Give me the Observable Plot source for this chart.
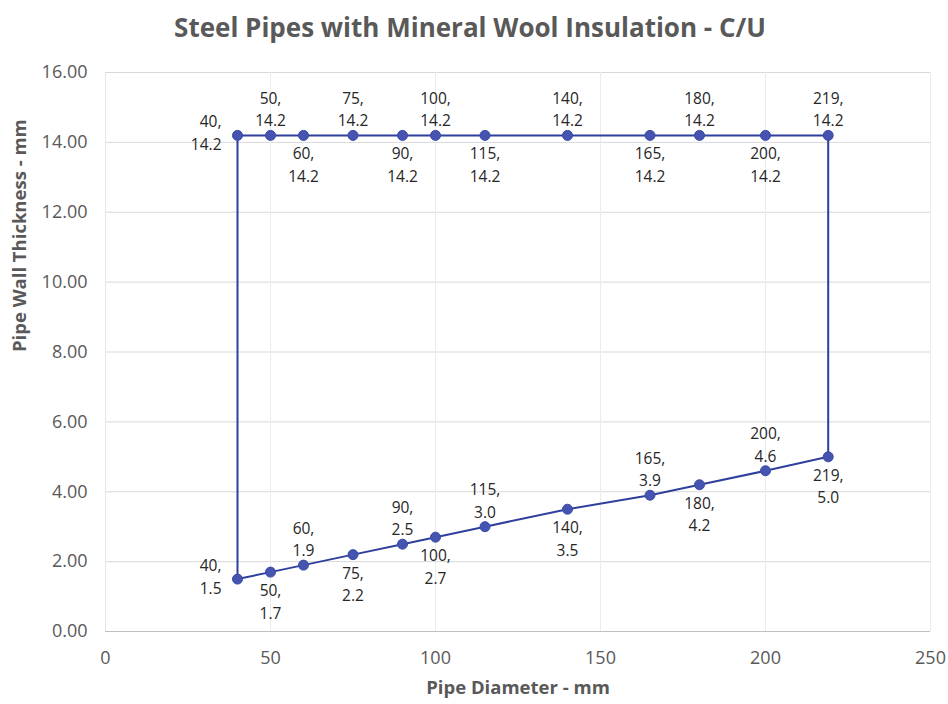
<!DOCTYPE html>
<html><head><meta charset="utf-8">
<script src="https://cdn.jsdelivr.net/npm/d3@7"></script>
<script src="https://cdn.jsdelivr.net/npm/@observablehq/plot@0.6"></script>
<style>
body{margin:0;background:#fff;font-family:"Open Sans",sans-serif;}
#title{height:55px;line-height:54px;text-align:center;font-weight:700;font-size:26px;color:#595959;width:940px;white-space:nowrap;}
</style></head><body>
<div id="title">Steel Pipes with Mineral Wool Insulation - C/U</div>
<div id="chart"></div>
<script>
const diameters = [40, 50, 60, 75, 90, 100, 115, 140, 165, 180, 200, 219];
const lowerThickness = [1.5, 1.7, 1.9, 2.2, 2.5, 2.7, 3.0, 3.5, 3.9, 4.2, 4.6, 5.0];
const upperThickness = [14.2, 14.2, 14.2, 14.2, 14.2, 14.2, 14.2, 14.2, 14.2, 14.2, 14.2, 14.2];
const xTicks = [0, 50, 100, 150, 200, 250];
const yTicks = [0, 2, 4, 6, 8, 10, 12, 14, 16];

const lower = diameters.map((d, i) => ({x: d, y: lowerThickness[i], i, side: "lower"}));
const upper = diameters.map((d, i) => ({x: d, y: upperThickness[i], i, side: "upper"}));
// closed outline: lower left->right, upper right->left, back to start
const outline = [...lower, ...upper.slice().reverse(), lower[0]];
const pts = [...lower, ...upper];

const lbl = d => `${d.x},\n${d.y.toFixed(1)}`;
const isLeft = d => d.i === 0;
const isAbove = d => d.i > 0 && ((d.side === "upper") === (d.i % 2 === 1));
const isBelow = d => d.i > 0 && !isAbove(d);

const font = "Open Sans";
const lf = 15.5, lh = 1.45, lc = "#262626";
const chart = Plot.plot({
  width: 948, height: 649,
  marginTop: 17, marginBottom: 73, marginLeft: 105, marginRight: 18,
  style: {fontFamily: font, background: "#fff"},
  x: {domain: [0, 250]},
  y: {domain: [0, 16]},
  marks: [
    Plot.gridY(yTicks.slice(1), {stroke: "#d9d9d9", strokeOpacity: 1}),
    Plot.gridX(xTicks.slice(1), {stroke: "#ececec", strokeOpacity: 1}),
    Plot.ruleY([0], {stroke: "#bfbfbf"}),
    Plot.ruleX([0], {stroke: "#e6e6e6"}),
    Plot.axisX(xTicks, {tickSize: 0, tickPadding: 20, fontSize: 18, fill: "#595959", label: null}),
    Plot.axisY(yTicks, {tickSize: 0, tickPadding: 18, fontSize: 18, fill: "#595959", tickFormat: d3.format(".2f"), label: null}),
    Plot.text(["Pipe Diameter - mm"], {frameAnchor: "bottom", dy: 62, fontSize: 18.5, fontWeight: 700, fill: "#595959"}),
    Plot.text(["Pipe Wall Thickness - mm"], {frameAnchor: "left", dx: -85, rotate: -90, fontSize: 18.5, fontWeight: 700, fill: "#595959"}),
    Plot.line(outline, {x: "x", y: "y", stroke: "#2f3f9c", strokeWidth: 2}),
    Plot.dot(pts, {x: "x", y: "y", r: 5, fill: "#4454b0", stroke: "#3a4aa6", strokeWidth: 1}),
    Plot.text(pts.filter(isAbove), {x: "x", y: "y", text: lbl, lineAnchor: "bottom", dy: -9, fontSize: lf, fill: lc, lineHeight: lh}),
    Plot.text(pts.filter(isBelow), {x: "x", y: "y", text: lbl, lineAnchor: "top", dy: 8, fontSize: lf, fill: lc, lineHeight: lh}),
    Plot.text(pts.filter(isLeft), {x: "x", y: "y", text: lbl, lineAnchor: "middle", textAnchor: "end", dx: -16, dy: -4, fontSize: lf, fill: lc, lineHeight: lh})
  ]
});
document.getElementById("chart").appendChild(chart);
</script>
</body></html>
